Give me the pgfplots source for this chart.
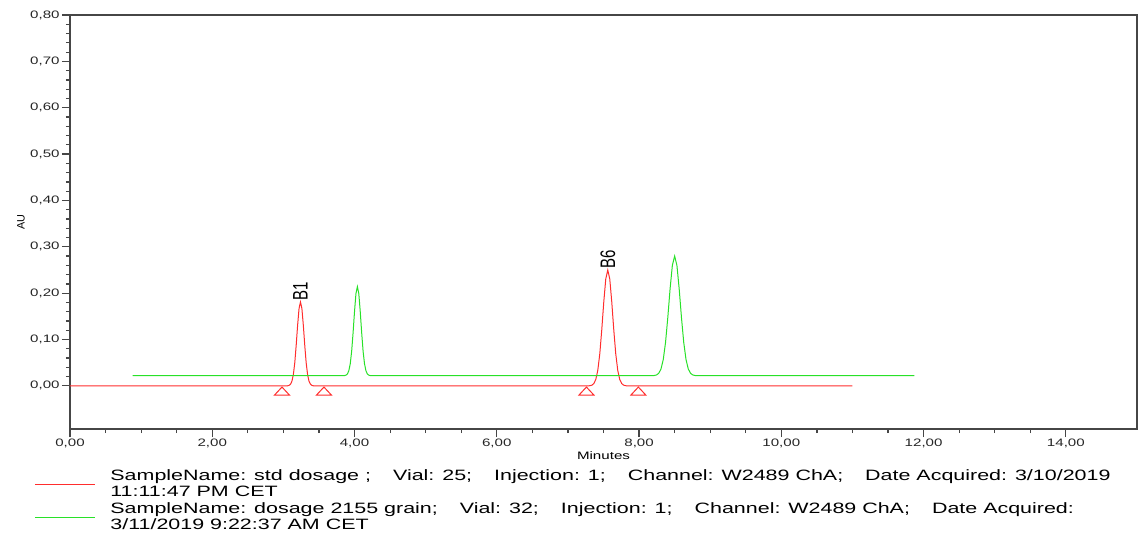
\documentclass[border=0pt]{standalone}
\usepackage{pgfplots}
\pgfplotsset{compat=1.18}
\usepackage{fontspec}
\setmainfont{Liberation Sans}[FakeStretch=1.4]
\newfontfamily\plainfont{Liberation Sans}
\newfontfamily\legfamily{Liberation Sans}[FakeStretch=1.43]

\definecolor{stdred}{RGB}{255,45,45}
\definecolor{smpgreen}{RGB}{40,225,40}
\definecolor{axgray}{RGB}{70,70,70}

\newcommand{\tickfont}{\fontsize{5.4}{6}\selectfont}
\newcommand{\legfont}{\legfamily\fontsize{7.5}{8.15}\selectfont}
\newcommand{\gap}{\hspace{11pt}}

\begin{document}
\begin{tikzpicture}
\begin{axis}[
    scale only axis,
    width=533.5pt, height=207pt,
    at={(0pt,0pt)}, anchor=south west,
    xmin=0, xmax=15,
    ymin=-0.093, ymax=0.8,
    xtick={0,2,...,14},
    ytick={0,0.1,...,0.8},
    minor x tick num=3,
    minor y tick num=4,
    tick pos=left,
    tick align=outside,
    major tick length=4pt,
    minor tick length=2pt,
    axis line style={axgray, line width=0.6pt},
    every tick/.style={axgray, line width=0.6pt},
    /pgf/number format/.cd, fixed, fixed zerofill, precision=2, use comma, assume math mode=true,
    /pgfplots/.cd,
    ticklabel style={font=\tickfont, text=black!85},
    yticklabel style={inner sep=1pt},
    xticklabel style={inner sep=1pt},
    xlabel={Minutes},
    xlabel style={font=\tickfont, at={(rel axis cs:0.5,0)}, anchor=center, yshift=-13.5pt},
    ylabel={AU},
    ylabel style={font=\plainfont\fontsize{5.4}{6}\selectfont, at={(rel axis cs:0,0.5)}, anchor=center, yshift=24.5pt},
]
% std dosage trace
\addplot[stdred, line width=0.5pt] coordinates {
(0,0) (3.04,0) (3.06,0.0003) (3.08,0.0011) (3.10,0.0036) (3.12,0.0101) (3.14,0.0244)
(3.16,0.050) (3.18,0.088) (3.20,0.131) (3.22,0.167) (3.24,0.181) (3.26,0.167)
(3.28,0.131) (3.30,0.088) (3.32,0.050) (3.34,0.0244) (3.36,0.0101) (3.38,0.0036)
(3.40,0.0011) (3.42,0.0003) (3.44,0)
(7.28,0) (7.308,0.0004) (7.336,0.0015) (7.364,0.005) (7.392,0.014) (7.42,0.0338)
(7.448,0.0695) (7.476,0.1218) (7.504,0.1815) (7.532,0.2308) (7.56,0.25) (7.588,0.2308)
(7.616,0.1815) (7.644,0.1218) (7.672,0.0695) (7.70,0.0338) (7.728,0.014) (7.756,0.005)
(7.784,0.0015) (7.812,0.0004) (7.84,0) (11.0,0)
};
% sample trace
\addplot[smpgreen, line width=0.5pt] coordinates {
(0.88,0.022) (3.84,0.022) (3.86,0.0223) (3.88,0.0232) (3.90,0.0258) (3.92,0.0328)
(3.94,0.0479) (3.96,0.0754) (3.98,0.1155) (4.00,0.161) (4.02,0.199) (4.04,0.214)
(4.06,0.199) (4.08,0.161) (4.10,0.1155) (4.12,0.0754) (4.14,0.0479) (4.16,0.0328)
(4.18,0.0258) (4.20,0.0232) (4.22,0.0223) (4.24,0.022)
(8.18,0.022) (8.212,0.0224) (8.244,0.0235) (8.276,0.0271) (8.308,0.0364) (8.34,0.0568)
(8.372,0.0937) (8.404,0.1476) (8.436,0.2093) (8.468,0.2601) (8.5,0.280) (8.532,0.2601)
(8.564,0.2093) (8.596,0.1476) (8.628,0.0937) (8.66,0.0568) (8.692,0.0364) (8.724,0.0271)
(8.756,0.0235) (8.788,0.0224) (8.82,0.022) (11.87,0.022)
};
% integration start/end markers
\addplot[only marks, mark=triangle, mark size=4.3pt, mark options={draw=stdred, line width=0.5pt, yscale=0.62}] coordinates {
(2.98,-0.014) (3.57,-0.014) (7.26,-0.014) (7.99,-0.014)
};
\node[font=\plainfont\fontsize{7.5}{8}\selectfont, inner sep=0.5pt, xscale=1.4, rotate=90, anchor=west] at (axis cs:3.24,0.181) {B1};
\node[font=\plainfont\fontsize{7.5}{8}\selectfont, inner sep=0.5pt, xscale=1.4, rotate=90, anchor=west] at (axis cs:7.56,0.25) {B6};
\end{axis}
% legend below the axis (axis lower left corner is the origin)
\begin{scope}[every node/.style={font=\legfont, anchor=base west, inner sep=0pt}]
\draw[stdred, line width=0.5pt] (-17.5pt,-27.5pt) -- (12.5pt,-27.5pt);
\node at (20pt,-25.5pt) {SampleName: std dosage ;\gap Vial: 25;\gap Injection: 1;\gap Channel: W2489 ChA;\gap Date Acquired: 3/10/2019};
\node at (20pt,-33.5pt) {11:11:47 PM CET};
\draw[smpgreen, line width=0.5pt] (-17.5pt,-44pt) -- (12.5pt,-44pt);
\node at (20pt,-42pt) {SampleName: dosage 2155 grain;\gap Vial: 32;\gap Injection: 1;\gap Channel: W2489 ChA;\gap Date Acquired:};
\node at (20pt,-50pt) {3/11/2019 9:22:37 AM CET};
\end{scope}
\path[use as bounding box] (-35pt,-51.5pt) rectangle (537.5pt,214.5pt);
\end{tikzpicture}
\end{document}
